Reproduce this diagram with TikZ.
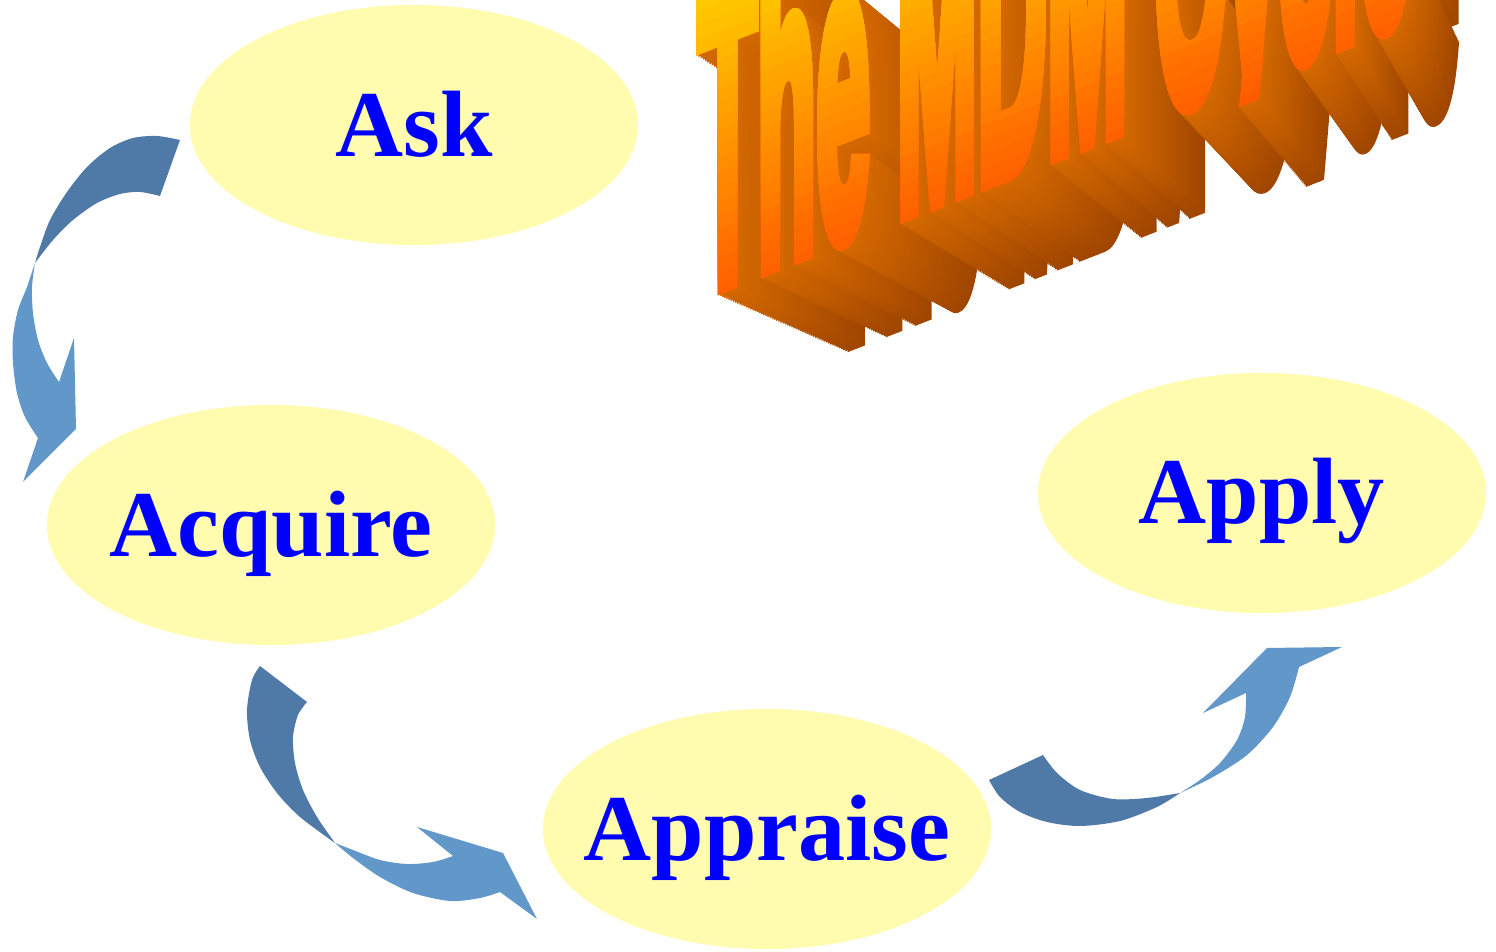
\documentclass[tikz,border=0pt]{standalone}
\usepackage{fontspec}
\setmainfont{Liberation Serif}
\newfontfamily\titlefont{Liberation Sans Bold}[FakeBold=6]
\usetikzlibrary{shapes.geometric}
\definecolor{ellfill}{RGB}{255,252,175}
\definecolor{lblblue}{RGB}{0,0,255}
\definecolor{arrdark}{RGB}{79,122,168}
\definecolor{arrlight}{RGB}{97,151,201}
\definecolor{extback}{RGB}{160,70,0}
\definecolor{extfront}{RGB}{212,104,0}
\definecolor{faceyel}{RGB}{255,212,0}
\definecolor{facered}{RGB}{255,92,0}
\tikzset{
  stage/.style={ellipse, fill=ellfill, minimum width=4.48cm, minimum height=2.4cm, inner sep=0pt},
  lbl/.style={anchor=base, text=lblblue, font=\bfseries\fontsize{26.8pt}{32pt}\selectfont, inner sep=0pt},
  backpart/.style={fill=arrdark},
  frontpart/.style={fill=arrlight},
  titlenode/.style={anchor=base west, inner sep=0pt, outer sep=0pt, transform shape, font=\titlefont\fontsize{27.5pt}{30pt}\selectfont},
  titleframe/.style={shift={(698,290)}, yslant=0.39, yscale=4.45},
}
\begin{document}
\begin{tikzpicture}[x=0.01cm, y=-0.01cm]
\useasboundingbox (0,0) rectangle (1496,952);
\clip (0,0) rectangle (1496,952);
% ---- title: extrusion (perspective copies towards a vanishing point) ----
\foreach \i in {0,...,59}{
  \pgfmathsetmacro\k{0.88+0.12*\i/60}
  \pgfmathtruncatemacro\m{100*\i/59}
  \begin{scope}[shift={(1800,770)}, scale=\k, shift={(-1800,-770)}, titleframe, x=1pt, y=1pt]
    \clip (-20,-1.8) rectangle (320,40);
    \node[titlenode, text=extfront!\m!extback] (tx\i) at (0,0) {The MDM Cycle};
  \end{scope}
}
% ---- title: front face with gradient ----
\begin{scope}[titleframe, x=1pt, y=1pt]
  \clip (-20,-1.8) rectangle (320,40);
  \node[titlenode, text=facered] (title) at (0,0) {The MDM Cycle};
  \foreach \j in {1,...,24}{
    \pgfmathsetmacro\yy{-2+\j*0.9}
    \pgfmathtruncatemacro\p{100*\j/24}
    \begin{scope}
      \clip (-20,\yy) rectangle (320,40);
      \node[titlenode, text=faceyel!\p!facered] (tf\j) at (0,0) {The MDM Cycle};
    \end{scope}
  }
\end{scope}
% ---- stages ----
\node[stage] (ask) at (414,125) {};
\node[lbl] (askl) at (414,157) {Ask};
\node[stage] (acquire) at (271,525) {};
\node[lbl] (acquirel) at (271,557) {Acquire};
\node[stage] (apply) at (1262,493) {};
\node[lbl] (applyl) at (1262,524) {Apply};
\node[stage] (appraise) at (767,829) {};
\node[lbl] (appraisel) at (767,861) {Appraise};
% ---- arrow Ask -> Acquire ----
\fill[backpart] plot[smooth] coordinates {(180,140)(157,136)(133,138)(110,148)(87,167)(67,192)(50,220)(40,247)(35,263)}
  -- plot[smooth] coordinates {(35,263)(53,240)(73,220)(97,203)(120,194)(140,192)(160,196)} -- cycle;
\fill[frontpart] plot[smooth] coordinates {(35,263)(27,287)(18,310)(13,337)(13,363)(17,393)(25,417)(38,438)}
  -- (23,482) -- (76,429) -- (74,338) -- (59,382)
  -- plot[smooth] coordinates {(59,382)(47,363)(38,340)(33,313)(32,287)(35,263)} -- cycle;
% ---- arrow Acquire -> Appraise ----
\fill[backpart] plot[smooth] coordinates {(260,666)(252,680)(247,710)(250,740)(260,767)(277,793)(300,817)(335,843)}
  -- plot[smooth] coordinates {(335,843)(317,817)(303,790)(295,763)(293,737)(298,715)(307,702)} -- cycle;
\fill[frontpart] plot[smooth] coordinates {(335,843)(353,858)(380,877)(413,893)(450,901)(480,898)(500,892)}
  -- (537,919) -- (503,853) -- (417,827) -- (453,856)
  -- plot[smooth] coordinates {(453,856)(433,862)(407,864)(380,860)(353,850)(335,843)} -- cycle;
% ---- arrow Appraise -> Apply ----
\fill[backpart] plot[smooth] coordinates {(989,780)(1000,797)(1020,812)(1047,822)(1080,826)(1120,821)(1157,807)(1180,793)}
  -- plot[smooth] coordinates {(1180,793)(1147,798)(1113,799)(1080,790)(1057,773)(1043,755)} -- cycle;
\fill[frontpart] plot[smooth] coordinates {(1180,793)(1213,777)(1247,755)(1273,727)(1290,697)(1299,667)}
  -- (1342,647) -- (1267,648) -- (1203,713) -- (1246,693)
  -- plot[smooth] coordinates {(1246,693)(1245,717)(1237,740)(1220,763)(1200,780)(1180,793)} -- cycle;
\end{tikzpicture}
\end{document}
